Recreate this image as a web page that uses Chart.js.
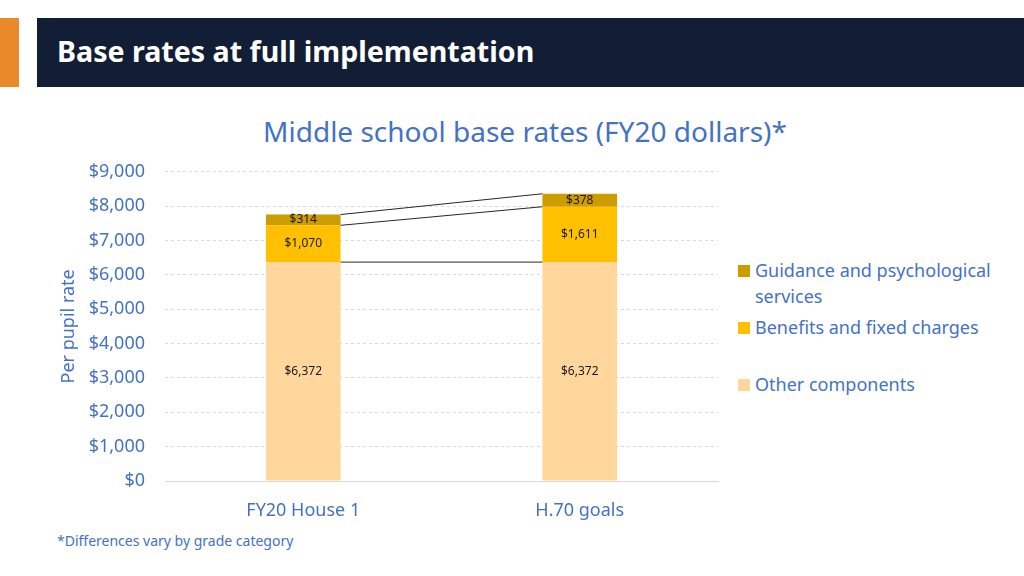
<!DOCTYPE html>
<html>
<head>
<meta charset="utf-8">
<script src="https://cdn.jsdelivr.net/npm/chart.js@4.4.1/dist/chart.umd.min.js"></script>
<style>
  body { margin: 0; width: 1024px; height: 576px; background: #fff; font-family: "Noto Sans", sans-serif; position: relative; overflow: hidden; }
  .accent { position: absolute; left: 0; top: 18px; width: 19px; height: 69px; background: #e8892a; }
  .band { position: absolute; left: 37px; top: 18px; right: 0; height: 69px; background: #111e36; }
  .band h1 { margin: 0; position: absolute; left: 20px; top: 13px; color: #fff; font-size: 28.6px; font-weight: bold; }
  .ctitle { position: absolute; left: 0; width: 1050px; top: 112px; text-align: center; color: #4472c4; font-size: 28px; }
  #wrap { position: absolute; left: 50px; top: 141px; width: 680px; height: 389px; }
  .legend { position: absolute; left: 738px; top: 0; color: #4472c4; font-size: 18px; }
  .legend div { position: absolute; left: 0; white-space: nowrap; line-height: 26px; }
  .legend span.sw { position: absolute; left: 0; width: 12px; height: 12px; }
  .legend span.tx { position: absolute; left: 17px; }
  .foot { position: absolute; left: 57px; top: 531px; color: #4472c4; font-size: 14px; }
</style>
</head>
<body>
<div class="accent"></div>
<div class="band"><h1>Base rates at full implementation</h1></div>
<div class="ctitle">Middle school base rates (FY20 dollars)*</div>
<div id="wrap"><canvas id="rateChart"></canvas></div>
<div class="legend" id="legend"></div>
<div class="foot">*Differences vary by grade category</div>
<script>
const categories = ['FY20 House 1', 'H.70 goals'];
const otherComponents = [6372, 6372];
const benefitsFixed = [1070, 1611];
const guidancePsych = [314, 378];
const seriesNames = ['Other components', 'Benefits and fixed charges', 'Guidance and psychological services'];
const seriesColors = ['#ffd79c', '#ffc000', '#cc9c00'];
const yMax = 9000;
const yStep = 1000;

function money(v) {
    return '$' + Number(v).toLocaleString('en-US');
}

// lines joining the tops of each segment between the two bars, plus value labels
const connectorsAndLabels = {
    id: 'connectorsAndLabels',
    afterDatasetsDraw(chart) {
        const ctx = chart.ctx;
        ctx.save();
        ctx.strokeStyle = '#262626';
        ctx.lineWidth = 1;
        chart.data.datasets.forEach(function(ds, i) {
            const bars = chart.getDatasetMeta(i).data;
            const a = bars[0], b = bars[1];
            ctx.beginPath();
            ctx.moveTo(a.x + a.width / 2, a.y);
            ctx.lineTo(b.x - b.width / 2, b.y);
            ctx.stroke();
        });
        ctx.fillStyle = '#1a1a1a';
        ctx.font = '12px "Noto Sans"';
        ctx.textAlign = 'center';
        ctx.textBaseline = 'middle';
        chart.data.datasets.forEach(function(ds, i) {
            chart.getDatasetMeta(i).data.forEach(function(bar, j) {
                ctx.fillText(money(ds.data[j]), bar.x, (bar.y + bar.base) / 2);
            });
        });
        ctx.restore();
    }
};

const ctx = document.getElementById('rateChart').getContext('2d');
const rateChart = new Chart(ctx, {
    type: 'bar',
    data: {
        labels: categories,
        datasets: [
            { label: seriesNames[0], data: otherComponents, backgroundColor: seriesColors[0] },
            { label: seriesNames[1], data: benefitsFixed, backgroundColor: seriesColors[1] },
            { label: seriesNames[2], data: guidancePsych, backgroundColor: seriesColors[2] }
        ]
    },
    options: {
        responsive: true,
        maintainAspectRatio: false,
        animation: false,
        barPercentage: 1,
        categoryPercentage: 0.27,
        layout: { padding: { top: 15, right: 12, left: 0, bottom: 0 } },
        plugins: {
            legend: { display: false },
            tooltip: { enabled: false }
        },
        scales: {
            x: {
                stacked: true,
                grid: { display: false },
                border: { display: true, color: '#d9d9d9', width: 1 },
                ticks: { color: '#4472c4', font: { family: 'Noto Sans', size: 18 }, padding: 11 },
                afterFit(scale) { scale.height = 49; }
            },
            y: {
                stacked: true,
                min: 0,
                max: yMax,
                ticks: {
                    stepSize: yStep,
                    color: '#4472c4',
                    font: { family: 'Noto Sans', size: 18 },
                    padding: 20,
                    callback: function(v) { return money(v); }
                },
                grid: { color: '#d9d9d9', drawTicks: false },
                border: { display: false, dash: [3, 3] },
                title: { display: true, text: 'Per pupil rate', color: '#4472c4', font: { family: 'Noto Sans', size: 18 }, padding: { top: 8, bottom: 0 } },
                afterFit(scale) { scale.width = 115; }
            }
        }
    },
    plugins: [connectorsAndLabels]
});

// legend drawn in HTML so the long label can wrap like the original
const legendRows = [
    { idx: 2, lines: ['Guidance and psychological', 'services'], top: 257 },
    { idx: 1, lines: ['Benefits and fixed charges'], top: 314 },
    { idx: 0, lines: ['Other components'], top: 371 }
];
const legendEl = document.getElementById('legend');
legendRows.forEach(function(r) {
    const row = document.createElement('div');
    row.style.top = r.top + 'px';
    row.innerHTML = '<span class="sw" style="top:8px;background:' + seriesColors[r.idx] + '"></span>' +
        '<span class="tx">' + r.lines.join('<br>') + '</span>';
    legendEl.appendChild(row);
});
</script>
</body>
</html>
